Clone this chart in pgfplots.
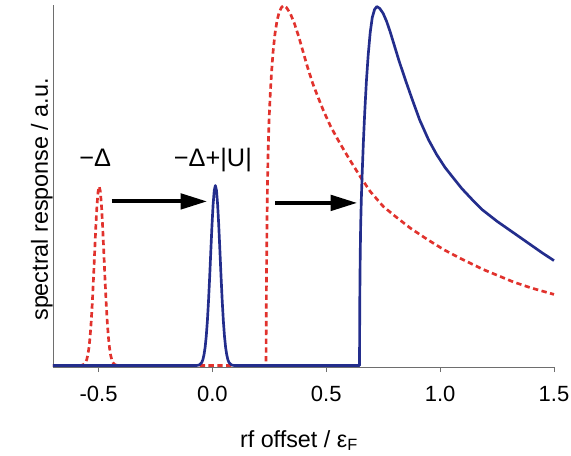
\documentclass[border=0pt]{standalone}
\usepackage{fontspec}
\setmainfont{Liberation Sans}
\usepackage{pgfplots}
\pgfplotsset{compat=1.18}
\usetikzlibrary{arrows.meta}
\definecolor{bl}{RGB}{35,45,140}
\definecolor{rd}{RGB}{225,50,45}
\definecolor{axgray}{RGB}{110,110,110}
\begin{document}
\begin{tikzpicture}
\begin{axis}[
  at={(0,0)}, anchor=south west,
  scale only axis, width=375.75pt, height=271.5pt,
  xmin=-0.7, xmax=1.5, ymin=-1.5, ymax=362.5,
  axis lines=left,
  axis line style={-, draw=axgray, line width=0.7pt},
  xtick={-0.5,0,0.5,1,1.5},
  xticklabels={-0.5,0.0,0.5,1.0,1.5},
  ytick=\empty,
  tick align=outside, major tick length=3.75pt,
  tick style={draw=axgray, line width=0.7pt},
  xticklabel style={font=\fontsize{16.5}{18}\selectfont, anchor=base, yshift=-22pt},
  xlabel={rf offset / ε\textsubscript{F}},
  xlabel style={font=\fontsize{17.5}{20}\selectfont, at={(axis description cs:0.491,0)}, anchor=base, yshift=-60pt},
  ylabel={spectral response / a.u.},
  ylabel style={font=\fontsize{17.5}{20}\selectfont, at={(axis description cs:0,0.51)}, anchor=south, inner sep=0pt, xshift=-12.75pt},
  clip=false,
]
% red dotted: paired-state spectrum
\addplot[rd, line width=2pt, dash pattern=on 4pt off 2.6pt, line join=round] coordinates {
(-0.7,0) (-0.587,0) (-0.577,0.1) (-0.567,0.7) (-0.557,3.0) (-0.552,5.8) (-0.547,10.6)
(-0.542,18.1) (-0.537,29.3) (-0.532,44.9) (-0.527,64.9) (-0.522,88.6) (-0.517,114.4)
(-0.512,139.5) (-0.507,160.7) (-0.502,175.0) (-0.497,180) (-0.492,175.0) (-0.487,160.7)
(-0.482,139.5) (-0.477,114.4) (-0.472,88.6) (-0.467,64.9) (-0.462,44.9) (-0.457,29.3)
(-0.452,18.1) (-0.447,10.6) (-0.442,5.8) (-0.437,3.0) (-0.427,0.7) (-0.417,0.1) (-0.407,0)
(0.2355,0) (0.2362,40) (0.237,75) (0.2385,115) (0.240,150) (0.242,185) (0.245,218)
(0.249,248) (0.254,273) (0.260,296) (0.267,317) (0.275,334) (0.284,347) (0.293,355)
(0.303,360) (0.313,362) (0.325,360) (0.342,354) (0.36,344) (0.38,330) (0.40,314)
(0.415,302) (0.44,284) (0.46,272) (0.488,256) (0.52,240) (0.561,223) (0.60,208)
(0.649,190) (0.693,175) (0.75,160) (0.803,150) (0.87,138) (0.949,126) (1.02,116)
(1.095,107) (1.19,96.5) (1.322,84) (1.40,78) (1.5,71.5)
};
% blue solid
\addplot[bl, line width=2pt, line join=round] coordinates {
(-0.7,0) (-0.077,0) (-0.067,0.1) (-0.057,0.7) (-0.047,3.0) (-0.042,5.8) (-0.037,10.7)
(-0.032,18.2) (-0.027,29.5) (-0.022,45.1) (-0.017,65.3) (-0.012,89.1) (-0.007,115.0)
(-0.002,140.3) (0.003,161.6) (0.008,176.0) (0.013,181) (0.018,176.0) (0.023,161.6)
(0.028,140.3) (0.033,115.0) (0.038,89.1) (0.043,65.3) (0.048,45.1) (0.053,29.5)
(0.058,18.2) (0.063,10.7) (0.068,5.8) (0.073,3.0) (0.083,0.7) (0.093,0.1) (0.103,0)
(0.646,0) (0.6465,35) (0.6475,75) (0.649,110) (0.651,140) (0.654,168) (0.658,195)
(0.663,225) (0.669,255) (0.676,285) (0.684,312) (0.693,335) (0.702,350) (0.712,358)
(0.722,361) (0.735,359) (0.75,354) (0.765,346) (0.78,336) (0.80,321) (0.82,306)
(0.85,285.5) (0.876,268.5) (0.91,247) (0.949,227) (0.985,212) (1.022,199) (1.06,188)
(1.095,178) (1.14,167) (1.183,157) (1.25,145) (1.322,133.5) (1.40,121) (1.45,113) (1.5,105.5)
};
% arrows
\draw[black, line width=3pt, -{Triangle[length=20pt, width=11.5pt]}] (axis cs:-0.443,165) -- (axis cs:-0.023,165);
\draw[black, line width=3pt, -{Triangle[length=20pt, width=11.5pt]}] (axis cs:0.276,163.5) -- (axis cs:0.636,163.5);
% labels
\node[anchor=base, font=\fontsize{19}{22}\selectfont, inner sep=0pt] at (axis cs:-0.515,200) {−Δ};
\node[anchor=base, font=\fontsize{19}{22}\selectfont, inner sep=0pt] at (axis cs:0.002,200) {−Δ+|U|};
\end{axis}
\pgfresetboundingbox
\path (-39.75pt,-66pt) rectangle (388.5pt,275.25pt);
\end{tikzpicture}
\end{document}
